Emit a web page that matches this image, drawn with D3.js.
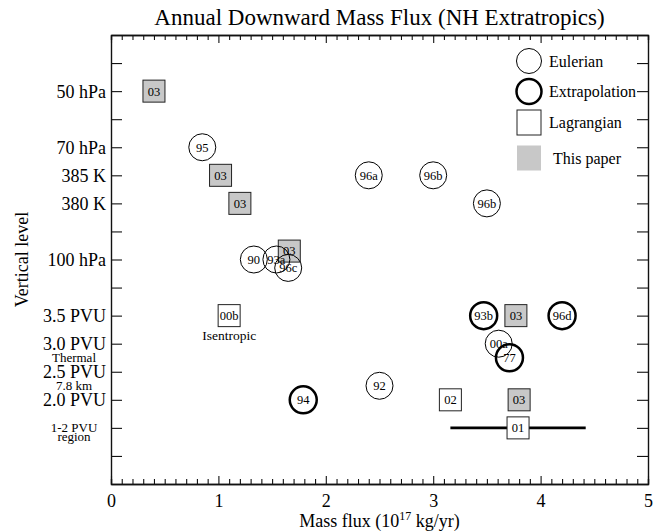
<!DOCTYPE html>
<html>
<head>
<meta charset="utf-8">
<script src="https://cdn.jsdelivr.net/npm/d3@7"></script>
<style>
  body { margin: 0; background: #fff; }
  svg { display: block; font-family: "Liberation Serif", "DejaVu Serif", serif; }
</style>
</head>
<body>
<svg id="chart"></svg>
<script>
// data
const pointLabels = ["03", "95", "03", "03", "90", "93a", "03", "96c", "96a", "96b", "96b",
  "00b", "93b", "03", "96d", "00a", "77", "92", "94", "02", "03", "01"];
const fluxValues = [0.40, 0.85, 1.02, 1.20, 1.33, 1.54, 1.66, 1.65, 2.40, 3.00, 3.50,
  1.10, 3.47, 3.77, 4.20, 3.61, 3.71, 2.50, 1.79, 3.16, 3.80, 3.79];
const levelValues = [14, 12, 11, 10, 8, 8, 8.3, 7.7, 11, 11, 10,
  6, 6, 6, 6, 5, 4.5, 3.5, 3, 3, 3, 2];
const methods = ["paper", "euler", "paper", "paper", "euler", "euler", "paper", "euler", "euler", "euler", "euler",
  "lagr", "extrap", "paper", "extrap", "euler", "extrap", "euler", "extrap", "lagr", "paper", "lagr"];

// range bar on the 1-2 PVU estimate
const rangeLevel = 2;
const rangeLow = 3.16;
const rangeHigh = 4.42;

const levelTicks = [1, 2, 3, 4, 5, 6, 7, 8, 9, 10, 11, 12, 13, 14, 15];
const levelNames = ["", "", "2.0 PVU", "2.5 PVU", "3.0 PVU", "3.5 PVU", "", "100 hPa", "", "380 K", "385 K", "70 hPa", "", "50 hPa", ""];
const xMajor = [0, 1, 2, 3, 4, 5];

// small notes next to the axis
const noteTexts = ["Thermal", "7.8 km", "1-2 PVU", "region"];
const noteLevels = [4.5, 3.5, 2.0, 1.66];

const legendNames = ["Eulerian", "Extrapolation", "Lagrangian", "This paper"];
const legendKinds = ["euler", "extrap", "lagr", "paper"];

const W = 661, H = 531;
const m = { left: 111, right: 13, top: 35, bottom: 47 };

const svg = d3.select('#chart').attr('width', W).attr('height', H);

const x = d3.scaleLinear().domain([0, 5]).range([m.left, W - m.right]);
const y = d3.scaleLinear().domain([0, 16]).range([H - m.bottom, m.top]);

const xMinor = d3.range(0, 50).map(i => i / 10).filter(v => Math.abs(v - Math.round(v)) > 1e-6);

function styleAxis(g) {
  g.select('.domain').attr('stroke', '#111').attr('stroke-width', 1.4);
  g.selectAll('.tick line').attr('stroke', '#111').attr('stroke-width', 1.1);
  g.selectAll('text').attr('font-family', '"Liberation Serif", serif').attr('fill', '#000');
}

// bottom axis: minor then major
svg.append('g').attr('transform', `translate(0,${y(0)})`)
  .call(d3.axisBottom(x).tickValues(xMinor).tickSize(-5).tickFormat(''))
  .call(styleAxis);
svg.append('g').attr('transform', `translate(0,${y(0)})`)
  .call(d3.axisBottom(x).tickValues(xMajor).tickSizeInner(-8).tickSizeOuter(0).tickPadding(6).tickFormat(d3.format('d')))
  .call(styleAxis)
  .call(g => g.selectAll('text').attr('font-size', 18).attr('dy', '0.95em'));

// top axis
svg.append('g').attr('transform', `translate(0,${y(16)})`)
  .call(d3.axisTop(x).tickValues(xMinor).tickSize(-5).tickFormat(''))
  .call(styleAxis);
svg.append('g').attr('transform', `translate(0,${y(16)})`)
  .call(d3.axisTop(x).tickValues(xMajor).tickSizeInner(-8).tickSizeOuter(0).tickFormat(''))
  .call(styleAxis);

// left axis with named levels
svg.append('g').attr('transform', `translate(${x(0)},0)`)
  .call(d3.axisLeft(y).tickValues(levelTicks).tickSizeInner(-11).tickSizeOuter(0).tickPadding(5)
    .tickFormat((d, i) => levelNames[i]))
  .call(styleAxis)
  .call(g => g.selectAll('text').attr('font-size', 18).attr('dy', '0.34em'));

// right axis
svg.append('g').attr('transform', `translate(${x(5)},0)`)
  .call(d3.axisRight(y).tickValues(levelTicks).tickSizeInner(-11).tickSizeOuter(0).tickFormat(''))
  .call(styleAxis);

// notes beside the left axis
svg.append('g').selectAll('text').data(noteTexts).join('text')
  .attr('x', 74)
  .attr('y', (d, i) => y(noteLevels[i]) + 4)
  .attr('text-anchor', 'middle')
  .attr('font-size', 13)
  .text(d => d);

// titles
svg.append('text')
  .attr('x', (x(0) + x(5)) / 2).attr('y', 25)
  .attr('text-anchor', 'middle').attr('font-size', 23)
  .text('Annual Downward Mass Flux (NH Extratropics)');

const xt = svg.append('text')
  .attr('x', (x(0) + x(5)) / 2).attr('y', 527)
  .attr('text-anchor', 'middle').attr('font-size', 18);
xt.append('tspan').text('Mass flux (10');
xt.append('tspan').attr('font-size', 12).attr('dy', -7).text('17');
xt.append('tspan').attr('dy', 7).text(' kg/yr)');

svg.append('text')
  .attr('transform', `translate(28,${(y(0) + y(16)) / 2}) rotate(-90)`)
  .attr('text-anchor', 'middle').attr('font-size', 18)
  .text('Vertical level');

// range bar
svg.append('line')
  .attr('x1', x(rangeLow)).attr('x2', x(rangeHigh))
  .attr('y1', y(rangeLevel)).attr('y2', y(rangeLevel))
  .attr('stroke', '#000').attr('stroke-width', 2.6);

const pts = pointLabels.map((label, i) => ({
  label, flux: fluxValues[i], level: levelValues[i], kind: methods[i]
}));

const SQ = 22, R = 13.5;
const gray = '#c8c8c8';

// squares first, circles on top
const sq = svg.append('g').selectAll('g')
  .data(pts.filter(d => d.kind === 'lagr' || d.kind === 'paper')).join('g')
  .attr('transform', d => `translate(${x(d.flux)},${y(d.level)})`);
sq.append('rect')
  .attr('x', -SQ / 2).attr('y', -SQ / 2).attr('width', SQ).attr('height', SQ)
  .attr('fill', d => d.kind === 'paper' ? gray : '#fff')
  .attr('stroke', '#222').attr('stroke-width', 1);

const ci = svg.append('g').selectAll('g')
  .data(pts.filter(d => d.kind === 'euler' || d.kind === 'extrap')).join('g')
  .attr('transform', d => `translate(${x(d.flux)},${y(d.level)})`);
ci.append('circle')
  .attr('r', R)
  .attr('fill', 'none')
  .attr('stroke', '#000')
  .attr('stroke-width', d => d.kind === 'extrap' ? 2.5 : 1);

svg.append('g').selectAll('text').data(pts).join('text')
  .attr('x', d => x(d.flux)).attr('y', d => y(d.level))
  .attr('dy', '0.35em')
  .attr('text-anchor', 'middle').attr('font-size', 12.5)
  .text(d => d.label);

// "Isentropic" note under 00b
const iso = pts.find(d => d.label === '00b');
svg.append('text')
  .attr('x', x(iso.flux)).attr('y', y(iso.level) + 24)
  .attr('text-anchor', 'middle').attr('font-size', 13.5)
  .text('Isentropic');

// legend
const lg = svg.append('g').selectAll('g').data(legendNames).join('g')
  .attr('transform', (d, i) => `translate(529,${[61, 91.5, 122.5, 158][i]})`);
lg.each(function (d, i) {
  const g = d3.select(this);
  const k = legendKinds[i];
  if (k === 'euler' || k === 'extrap') {
    g.append('circle').attr('r', 12.5).attr('fill', 'none').attr('stroke', '#000')
      .attr('stroke-width', k === 'extrap' ? 2.5 : 1);
  } else {
    g.append('rect').attr('x', -12).attr('y', -12.5).attr('width', 24).attr('height', 25)
      .attr('fill', k === 'paper' ? gray : '#fff')
      .attr('stroke', k === 'paper' ? 'none' : '#222');
  }
  g.append('text').attr('x', k === 'paper' ? 24 : 20).attr('y', 5.5)
    .attr('font-size', 16).text(d);
});
</script>
</body>
</html>
